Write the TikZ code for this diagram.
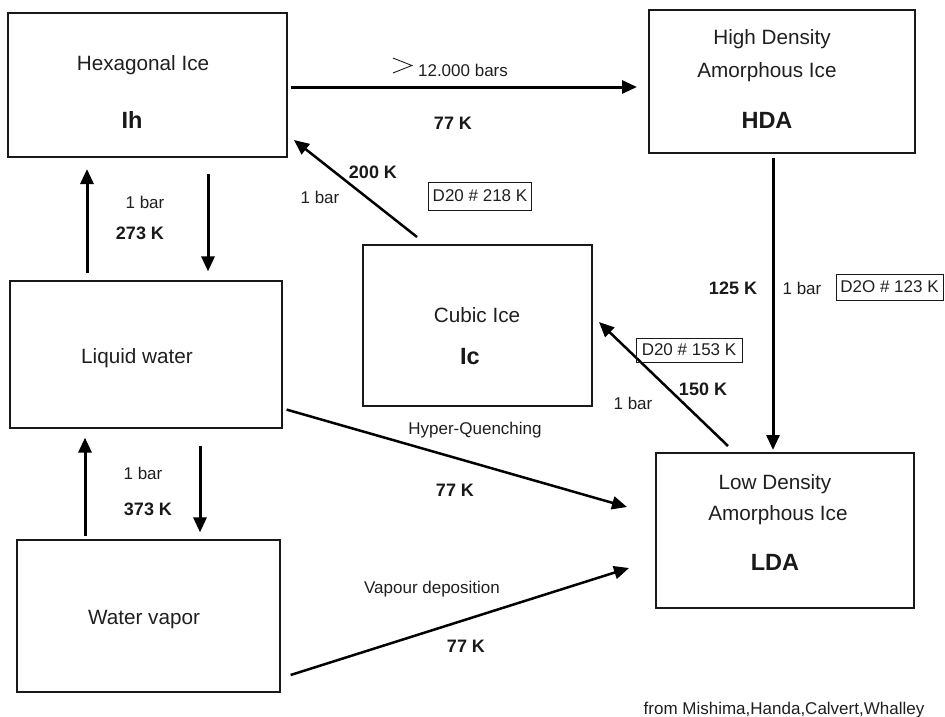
\documentclass[tikz,border=0pt]{standalone}
\usepackage{fontspec}
\setmainfont{Liberation Sans}
\usetikzlibrary{arrows.meta,calc}
\begin{document}
\begin{tikzpicture}[x=1pt,y=-1pt,
  thickbox/.style={draw=black!90, line width=2pt, inner sep=0pt},
  thinbox/.style={draw=black!90, line width=1.2pt, inner sep=0pt},
  arr/.style={-{Triangle[length=15pt,width=13pt]}, line width=3pt},
  darr/.style={-{Triangle[length=15pt,width=13pt]}, line width=2.5pt},
  lbl/.style={text=black!88, font=\fontsize{20.7}{24}\selectfont, inner sep=0pt},
  boldlbl/.style={text=black!90, font=\fontsize{23.5}{28}\selectfont\bfseries, inner sep=0pt},
  kel/.style={text=black!90, font=\fontsize{18}{21}\selectfont\bfseries, inner sep=0pt},
  small/.style={text=black!88, font=\fontsize{17}{20}\selectfont, inner sep=0pt},
  tagbox/.style={draw=black!90, line width=0.9pt, text=black!88, font=\fontsize{17}{20}\selectfont, inner sep=0pt}
]
\useasboundingbox (0,0) rectangle (945,717);

% boxes
\node[thickbox, minimum width=279pt, minimum height=144pt] (ih)  at (147.5,85) {};
\node[thickbox, minimum width=266pt, minimum height=143pt] (hda) at (782,81.5) {};
\node[thinbox,  minimum width=272pt, minimum height=147pt] (liq) at (146,354.5) {};
\node[thinbox,  minimum width=263pt, minimum height=152pt] (vap) at (148.5,616) {};
\node[thickbox, minimum width=229pt, minimum height=161pt] (cub) at (477.5,325.5) {};
\node[thickbox, minimum width=258pt, minimum height=155pt] (lda) at (785,530.5) {};

% box texts
\node[lbl] (tih) at (143,65) {Hexagonal Ice};
\node[boldlbl] (tihb) at (132,120) {Ih};
\node[lbl] (thda1) at (772,39) {High Density};
\node[lbl] (thda2) at (767,72) {Amorphous Ice};
\node[boldlbl] (thdab) at (767,120) {HDA};
\node[lbl] (tliq) at (137,358) {Liquid water};
\node[lbl] (tvap) at (144,620) {Water vapor};
\node[lbl] (tcub) at (477,315) {Cubic Ice};
\node[boldlbl] (tcubb) at (470,357) {Ic};
\node[lbl] (tlda1) at (775,484) {Low Density};
\node[lbl] (tlda2) at (778,515) {Amorphous Ice};
\node[boldlbl] (tldab) at (775,562) {LDA};

% arrows
\draw[arr] ($(ih.east)+(3,2)$) -- ($(hda.west)+(-11,5.5)$);
\draw[darr] ($(cub.north)+(-60.5,-7)$) -- ($(ih.south east)+(6,-18)$);
\draw[arr] ($(liq.north)+(-59,-7)$) -- ($(ih.south)+(-60.5,11)$);
\draw[arr] ($(ih.south)+(60.5,16)$) -- ($(liq.north)+(62,-9)$);
\draw[arr] ($(vap.north)+(-63.5,-3)$) -- ($(liq.south)+(-61,9)$);
\draw[arr] ($(liq.south)+(54,17)$) -- ($(vap.north)+(51.5,-7)$);
\draw[arr] ($(hda.south)+(-9,4)$) -- ($(lda.north)+(-12,-2)$);
\draw[darr] ($(lda.north)+(-57,-6)$) -- ($(cub.east)+(6,-3.5)$);
\draw[darr] ($(liq.south east)+(4,-19)$) -- ($(lda.west)+(-28,-23.5)$);
\draw[darr] ($(vap.east)+(10,59)$) -- ($(lda.west)+(-26,37.5)$);

% arrow labels
\node[small] (p12) at (463,70) {12.000 bars};
\draw[line width=0.9pt, black!88] ($(p12.west)+(-25,-12)$) -- ($(p12.west)+(-6,-4.5)$) -- ($(p12.west)+(-25,3)$);
\node[kel] (k77a) at (453,123) {77 K};
\node[kel] (k200) at (373,172) {200 K};
\node[small] (b1a) at (320,197) {1 bar};
\node[tagbox, minimum width=103pt, minimum height=28pt] (d218) at (480,196) {D20 \# 218 K};
\node[small] (b1b) at (145,202) {1 bar};
\node[kel] (k273) at (140,233) {273 K};
\node[small] (b1c) at (143,473) {1 bar};
\node[kel] (k373) at (148,509) {373 K};
\node[kel] (k125) at (733,288) {125 K};
\node[small] (b1d) at (802,288) {1 bar};
\node[tagbox, minimum width=107pt, minimum height=26pt] (d123) at (889.5,287) {D2O \# 123 K};
\node[tagbox, minimum width=106pt, minimum height=24pt] (d153) at (689,350) {D20 \# 153 K};
\node[kel] (k150) at (703,389) {150 K};
\node[small] (b1e) at (633,403) {1 bar};
\node[small] (hq) at (475,430) {Hyper-Quenching};
\node[kel] (k77b) at (455,490) {77 K};
\node[small] (vd) at (432,589) {Vapour deposition};
\node[kel] (k77c) at (466,646) {77 K};
\node[small] (src) at (784,710) {from Mishima,Handa,Calvert,Whalley};
\end{tikzpicture}
\end{document}
